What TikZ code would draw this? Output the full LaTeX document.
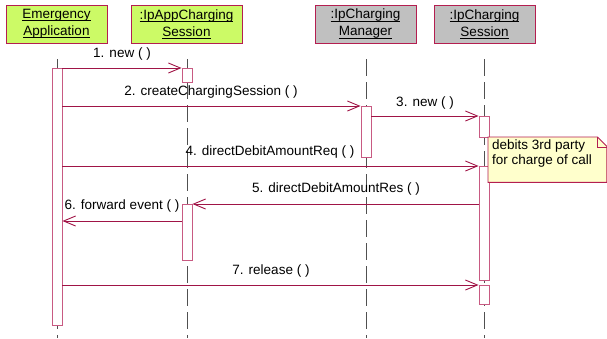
\documentclass[tikz,border=0pt]{standalone}
\usepackage{fontspec}
\setmainfont{Liberation Sans}
\usetikzlibrary{arrows.meta}
\definecolor{msgline}{RGB}{160,20,70}
\definecolor{headedge}{RGB}{180,30,80}
\definecolor{actedge}{RGB}{200,90,130}
\definecolor{headgreen}{RGB}{204,250,102}
\definecolor{headgray}{RGB}{192,192,192}
\definecolor{notefill}{RGB}{255,255,204}
\definecolor{lifegray}{RGB}{80,80,80}
% underline at a fixed depth, crossing the descenders
\newcommand\ulname[1]{\setbox0\hbox{#1}\rlap{\rule[-2.4pt]{\wd0}{0.7pt}}\box0}
\begin{document}
\begin{tikzpicture}[x=1pt,y=-1pt,
  head/.style={draw=headedge, line width=0.9pt, minimum width=101pt, minimum height=38pt,
    inner sep=0pt, align=center, font=\fontsize{13.5}{17}\selectfont},
  life/.style={draw=lifegray, line width=0.9pt, dash pattern=on 17pt off 6pt},
  act/.style={draw=actedge, fill=white, line width=0.9pt, minimum width=10pt,
    inner sep=0pt, anchor=north},
  msg/.style={draw=msgline, line width=0.9pt, -{Straight Barb[length=12pt,width=10pt]}},
  lbl/.style={font=\fontsize{13.5}{15}\selectfont, inner sep=0pt},
  notebox/.style={draw=headedge, fill=notefill, line width=0.9pt}]
\useasboundingbox (0,0) rectangle (607,338);

% object heads
\node[head, fill=headgreen] (ea) at (56.5,24) {\ulname{Emergency}\\\ulname{Application}};
\node[head, fill=headgreen, minimum width=111pt] (ac) at (186.5,24) {\ulname{:IpAppCharging}\\\ulname{Session}};
\node[head, fill=headgray] (cm) at (365.5,24) {\ulname{:IpCharging}\\\ulname{Manager}};
\node[head, fill=headgray] (cs) at (484.5,24) {\ulname{:IpCharging}\\\ulname{Session}};

% lifelines
\coordinate (bot) at (0,338);
\coordinate (eaL) at (57,59);
\coordinate (acL) at (187,59);
\coordinate (cmL) at (366,59);
\coordinate (csL) at (484,59);
\draw[life] (eaL) -- (eaL |- bot);
\draw[life] (acL) -- (acL |- bot);
\draw[life] (cmL) -- (cmL |- bot);
\draw[life] (csL) -- (csL |- bot);

% activations
\node[act, minimum height=257pt] (eaAct) at (57,68) {};
\node[act, minimum height=14pt] (ac1) at (187,68) {};
\node[act, minimum height=51pt] (cmAct) at (366,106) {};
\node[act, minimum height=21pt] (cs1) at (484,116) {};
\node[act, minimum height=114pt] (cs2) at (484,166) {};
\node[act, minimum height=56pt] (ac2) at (187,204) {};
\node[act, minimum height=19pt] (cs3) at (484,285) {};

% messages
\coordinate (m6) at (0,221);
\draw[msg] (eaAct.east |- ac1.north) -- (ac1.north west);
\draw[msg] (eaAct.east |- cmAct.north) -- (cmAct.north west);
\draw[msg] (cmAct.east |- cs1.north) -- (cs1.north west);
\draw[msg] (eaAct.east |- cs2.north) -- (cs2.north west);
\draw[msg] (cs2.west |- ac2.north) -- (ac2.north east);
\draw[msg] (ac2.west |- m6) -- (eaAct.east |- m6);
\draw[msg] (eaAct.east |- cs3.north) -- (cs3.north west);

% message labels
\node[lbl] (l1) at (122,54) {1. new ( )};
\node[lbl] (l2) at (211,92) {2. createChargingSession ( )};
\node[lbl] (l3) at (425,103) {3. new ( )};
\node[lbl] (l4) at (270,152) {4. directDebitAmountReq ( )};
\node[lbl] (l5) at (336,189) {5. directDebitAmountRes ( )};
\node[lbl] (l6) at (122,206) {6. forward event ( )};
\node[lbl] (l7) at (271,271) {7. release ( )};

% note with folded corner
\node[minimum width=118.5pt, minimum height=45pt, inner sep=0pt, anchor=north west] (note) at (488,137) {};
\filldraw[notebox] (note.north west) -- ([xshift=-9.5pt]note.north east)
  -- ([yshift=-9.5pt]note.north east) -- (note.south east) -- (note.south west) -- cycle;
\draw[notebox, fill=none] ([xshift=-9.5pt]note.north east) -- ([xshift=-9.5pt,yshift=-10pt]note.north east)
  -- ([yshift=-10pt]note.north east);
\node[lbl, anchor=north west, align=left] (nt) at (492,140) {debits 3rd party\\for charge of call};
\end{tikzpicture}
\end{document}
